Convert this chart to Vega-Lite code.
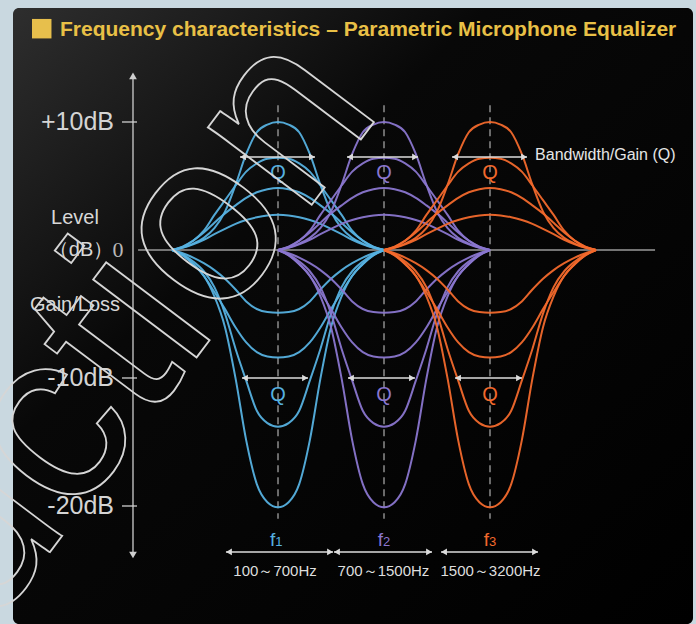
{
"$schema": "https://vega.github.io/schema/vega-lite/v6.json",
"width": 680, "height": 616,
"autosize": {"type": "none"},
"padding": {"left": 13, "top": 8, "right": 3, "bottom": 0},
"background": "#c9d8e0",
"config": {"font": "Liberation Sans", "view": {"stroke": null, "cornerRadius": 6, "fill": {"gradient": "linear", "x1": 0, "y1": 0, "x2": 1, "y2": 1, "stops": [{"offset": 0, "color": "#2e2e2e"}, {"offset": 0.35, "color": "#080808"}, {"offset": 1, "color": "#000000"}]}}},
"datasets": {
"curves": [
{"b":1,"c":"P1","x":0,"y":0},{"b":1,"c":"P1","x":0.1,"y":0.2},{"b":1,"c":"P1","x":0.2,"y":0.5},{"b":1,"c":"P1","x":0.3,"y":0.95},{"b":1,"c":"P1","x":0.4,"y":1.7},{"b":1,"c":"P1","x":0.5,"y":3},{"b":1,"c":"P1","x":0.6,"y":5.1},{"b":1,"c":"P1","x":0.7,"y":7.5},{"b":1,"c":"P1","x":0.8,"y":9.2},{"b":1,"c":"P1","x":0.9,"y":9.8},{"b":1,"c":"P1","x":1,"y":10},{"b":1,"c":"P1","x":1.1,"y":9.8},{"b":1,"c":"P1","x":1.2,"y":9.2},{"b":1,"c":"P1","x":1.3,"y":7.5},{"b":1,"c":"P1","x":1.4,"y":5.1},{"b":1,"c":"P1","x":1.5,"y":3},{"b":1,"c":"P1","x":1.6,"y":1.7},{"b":1,"c":"P1","x":1.7,"y":0.95},{"b":1,"c":"P1","x":1.8,"y":0.5},{"b":1,"c":"P1","x":1.9,"y":0.2},{"b":1,"c":"P1","x":2,"y":0},
{"b":1,"c":"P2","x":0,"y":0},{"b":1,"c":"P2","x":0.1,"y":0.25},{"b":1,"c":"P2","x":0.2,"y":0.72},{"b":1,"c":"P2","x":0.3,"y":1.51},{"b":1,"c":"P2","x":0.4,"y":2.74},{"b":1,"c":"P2","x":0.5,"y":3.89},{"b":1,"c":"P2","x":0.6,"y":5.04},{"b":1,"c":"P2","x":0.7,"y":6.12},{"b":1,"c":"P2","x":0.8,"y":6.77},{"b":1,"c":"P2","x":0.9,"y":7.13},{"b":1,"c":"P2","x":1,"y":7.2},{"b":1,"c":"P2","x":1.1,"y":7.13},{"b":1,"c":"P2","x":1.2,"y":6.77},{"b":1,"c":"P2","x":1.3,"y":6.12},{"b":1,"c":"P2","x":1.4,"y":5.04},{"b":1,"c":"P2","x":1.5,"y":3.89},{"b":1,"c":"P2","x":1.6,"y":2.74},{"b":1,"c":"P2","x":1.7,"y":1.51},{"b":1,"c":"P2","x":1.8,"y":0.72},{"b":1,"c":"P2","x":1.9,"y":0.25},{"b":1,"c":"P2","x":2,"y":0},
{"b":1,"c":"P3","x":0,"y":0},{"b":1,"c":"P3","x":0.1,"y":0.27},{"b":1,"c":"P3","x":0.2,"y":0.73},{"b":1,"c":"P3","x":0.3,"y":1.36},{"b":1,"c":"P3","x":0.4,"y":2.13},{"b":1,"c":"P3","x":0.5,"y":2.86},{"b":1,"c":"P3","x":0.6,"y":3.49},{"b":1,"c":"P3","x":0.7,"y":4.07},{"b":1,"c":"P3","x":0.8,"y":4.51},{"b":1,"c":"P3","x":0.9,"y":4.75},{"b":1,"c":"P3","x":1,"y":4.85},{"b":1,"c":"P3","x":1.1,"y":4.75},{"b":1,"c":"P3","x":1.2,"y":4.51},{"b":1,"c":"P3","x":1.3,"y":4.07},{"b":1,"c":"P3","x":1.4,"y":3.49},{"b":1,"c":"P3","x":1.5,"y":2.86},{"b":1,"c":"P3","x":1.6,"y":2.13},{"b":1,"c":"P3","x":1.7,"y":1.36},{"b":1,"c":"P3","x":1.8,"y":0.73},{"b":1,"c":"P3","x":1.9,"y":0.27},{"b":1,"c":"P3","x":2,"y":0},
{"b":1,"c":"P4","x":0,"y":0},{"b":1,"c":"P4","x":0.1,"y":0.17},{"b":1,"c":"P4","x":0.2,"y":0.44},{"b":1,"c":"P4","x":0.3,"y":0.8},{"b":1,"c":"P4","x":0.4,"y":1.24},{"b":1,"c":"P4","x":0.5,"y":1.65},{"b":1,"c":"P4","x":0.6,"y":2.04},{"b":1,"c":"P4","x":0.7,"y":2.34},{"b":1,"c":"P4","x":0.8,"y":2.56},{"b":1,"c":"P4","x":0.9,"y":2.7},{"b":1,"c":"P4","x":1,"y":2.75},{"b":1,"c":"P4","x":1.1,"y":2.7},{"b":1,"c":"P4","x":1.2,"y":2.56},{"b":1,"c":"P4","x":1.3,"y":2.34},{"b":1,"c":"P4","x":1.4,"y":2.04},{"b":1,"c":"P4","x":1.5,"y":1.65},{"b":1,"c":"P4","x":1.6,"y":1.24},{"b":1,"c":"P4","x":1.7,"y":0.8},{"b":1,"c":"P4","x":1.8,"y":0.44},{"b":1,"c":"P4","x":1.9,"y":0.17},{"b":1,"c":"P4","x":2,"y":0},
{"b":1,"c":"N1","x":0,"y":0},{"b":1,"c":"N1","x":0.1,"y":-0.25},{"b":1,"c":"N1","x":0.2,"y":-0.59},{"b":1,"c":"N1","x":0.3,"y":-1.03},{"b":1,"c":"N1","x":0.4,"y":-1.57},{"b":1,"c":"N1","x":0.5,"y":-2.25},{"b":1,"c":"N1","x":0.6,"y":-3.09},{"b":1,"c":"N1","x":0.7,"y":-4.02},{"b":1,"c":"N1","x":0.8,"y":-4.61},{"b":1,"c":"N1","x":0.9,"y":-4.85},{"b":1,"c":"N1","x":1,"y":-4.9},{"b":1,"c":"N1","x":1.1,"y":-4.85},{"b":1,"c":"N1","x":1.2,"y":-4.61},{"b":1,"c":"N1","x":1.3,"y":-4.02},{"b":1,"c":"N1","x":1.4,"y":-3.09},{"b":1,"c":"N1","x":1.5,"y":-2.25},{"b":1,"c":"N1","x":1.6,"y":-1.57},{"b":1,"c":"N1","x":1.7,"y":-1.03},{"b":1,"c":"N1","x":1.8,"y":-0.59},{"b":1,"c":"N1","x":1.9,"y":-0.25},{"b":1,"c":"N1","x":2,"y":0},
{"b":1,"c":"N2","x":0,"y":0},{"b":1,"c":"N2","x":0.1,"y":-0.42},{"b":1,"c":"N2","x":0.2,"y":-1.09},{"b":1,"c":"N2","x":0.3,"y":-2.02},{"b":1,"c":"N2","x":0.4,"y":-3.28},{"b":1,"c":"N2","x":0.5,"y":-4.62},{"b":1,"c":"N2","x":0.6,"y":-6.05},{"b":1,"c":"N2","x":0.7,"y":-7.22},{"b":1,"c":"N2","x":0.8,"y":-7.98},{"b":1,"c":"N2","x":0.9,"y":-8.32},{"b":1,"c":"N2","x":1,"y":-8.4},{"b":1,"c":"N2","x":1.1,"y":-8.32},{"b":1,"c":"N2","x":1.2,"y":-7.98},{"b":1,"c":"N2","x":1.3,"y":-7.22},{"b":1,"c":"N2","x":1.4,"y":-6.05},{"b":1,"c":"N2","x":1.5,"y":-4.62},{"b":1,"c":"N2","x":1.6,"y":-3.28},{"b":1,"c":"N2","x":1.7,"y":-2.02},{"b":1,"c":"N2","x":1.8,"y":-1.09},{"b":1,"c":"N2","x":1.9,"y":-0.42},{"b":1,"c":"N2","x":2,"y":0},
{"b":1,"c":"N3","x":0,"y":0},{"b":1,"c":"N3","x":0.1,"y":-0.35},{"b":1,"c":"N3","x":0.2,"y":-0.9},{"b":1,"c":"N3","x":0.3,"y":-1.66},{"b":1,"c":"N3","x":0.4,"y":-2.9},{"b":1,"c":"N3","x":0.5,"y":-4.97},{"b":1,"c":"N3","x":0.6,"y":-7.73},{"b":1,"c":"N3","x":0.7,"y":-10.21},{"b":1,"c":"N3","x":0.8,"y":-12.56},{"b":1,"c":"N3","x":0.9,"y":-13.52},{"b":1,"c":"N3","x":1,"y":-13.8},{"b":1,"c":"N3","x":1.1,"y":-13.52},{"b":1,"c":"N3","x":1.2,"y":-12.56},{"b":1,"c":"N3","x":1.3,"y":-10.21},{"b":1,"c":"N3","x":1.4,"y":-7.73},{"b":1,"c":"N3","x":1.5,"y":-4.97},{"b":1,"c":"N3","x":1.6,"y":-2.9},{"b":1,"c":"N3","x":1.7,"y":-1.66},{"b":1,"c":"N3","x":1.8,"y":-0.9},{"b":1,"c":"N3","x":1.9,"y":-0.35},{"b":1,"c":"N3","x":2,"y":0},
{"b":1,"c":"N4","x":0,"y":0},{"b":1,"c":"N4","x":0.1,"y":-0.4},{"b":1,"c":"N4","x":0.2,"y":-1.11},{"b":1,"c":"N4","x":0.3,"y":-2.01},{"b":1,"c":"N4","x":0.4,"y":-3.62},{"b":1,"c":"N4","x":0.5,"y":-6.03},{"b":1,"c":"N4","x":0.6,"y":-10.05},{"b":1,"c":"N4","x":0.7,"y":-14.87},{"b":1,"c":"N4","x":0.8,"y":-18.29},{"b":1,"c":"N4","x":0.9,"y":-19.7},{"b":1,"c":"N4","x":1,"y":-20.1},{"b":1,"c":"N4","x":1.1,"y":-19.7},{"b":1,"c":"N4","x":1.2,"y":-18.29},{"b":1,"c":"N4","x":1.3,"y":-14.87},{"b":1,"c":"N4","x":1.4,"y":-10.05},{"b":1,"c":"N4","x":1.5,"y":-6.03},{"b":1,"c":"N4","x":1.6,"y":-3.62},{"b":1,"c":"N4","x":1.7,"y":-2.01},{"b":1,"c":"N4","x":1.8,"y":-1.11},{"b":1,"c":"N4","x":1.9,"y":-0.4},{"b":1,"c":"N4","x":2,"y":0},
{"b":2,"c":"P1","x":1,"y":0},{"b":2,"c":"P1","x":1.1,"y":0.2},{"b":2,"c":"P1","x":1.2,"y":0.5},{"b":2,"c":"P1","x":1.3,"y":0.95},{"b":2,"c":"P1","x":1.4,"y":1.7},{"b":2,"c":"P1","x":1.5,"y":3},{"b":2,"c":"P1","x":1.6,"y":5.1},{"b":2,"c":"P1","x":1.7,"y":7.5},{"b":2,"c":"P1","x":1.8,"y":9.2},{"b":2,"c":"P1","x":1.9,"y":9.8},{"b":2,"c":"P1","x":2,"y":10},{"b":2,"c":"P1","x":2.1,"y":9.8},{"b":2,"c":"P1","x":2.2,"y":9.2},{"b":2,"c":"P1","x":2.3,"y":7.5},{"b":2,"c":"P1","x":2.4,"y":5.1},{"b":2,"c":"P1","x":2.5,"y":3},{"b":2,"c":"P1","x":2.6,"y":1.7},{"b":2,"c":"P1","x":2.7,"y":0.95},{"b":2,"c":"P1","x":2.8,"y":0.5},{"b":2,"c":"P1","x":2.9,"y":0.2},{"b":2,"c":"P1","x":3,"y":0},
{"b":2,"c":"P2","x":1,"y":0},{"b":2,"c":"P2","x":1.1,"y":0.25},{"b":2,"c":"P2","x":1.2,"y":0.72},{"b":2,"c":"P2","x":1.3,"y":1.51},{"b":2,"c":"P2","x":1.4,"y":2.74},{"b":2,"c":"P2","x":1.5,"y":3.89},{"b":2,"c":"P2","x":1.6,"y":5.04},{"b":2,"c":"P2","x":1.7,"y":6.12},{"b":2,"c":"P2","x":1.8,"y":6.77},{"b":2,"c":"P2","x":1.9,"y":7.13},{"b":2,"c":"P2","x":2,"y":7.2},{"b":2,"c":"P2","x":2.1,"y":7.13},{"b":2,"c":"P2","x":2.2,"y":6.77},{"b":2,"c":"P2","x":2.3,"y":6.12},{"b":2,"c":"P2","x":2.4,"y":5.04},{"b":2,"c":"P2","x":2.5,"y":3.89},{"b":2,"c":"P2","x":2.6,"y":2.74},{"b":2,"c":"P2","x":2.7,"y":1.51},{"b":2,"c":"P2","x":2.8,"y":0.72},{"b":2,"c":"P2","x":2.9,"y":0.25},{"b":2,"c":"P2","x":3,"y":0},
{"b":2,"c":"P3","x":1,"y":0},{"b":2,"c":"P3","x":1.1,"y":0.27},{"b":2,"c":"P3","x":1.2,"y":0.73},{"b":2,"c":"P3","x":1.3,"y":1.36},{"b":2,"c":"P3","x":1.4,"y":2.13},{"b":2,"c":"P3","x":1.5,"y":2.86},{"b":2,"c":"P3","x":1.6,"y":3.49},{"b":2,"c":"P3","x":1.7,"y":4.07},{"b":2,"c":"P3","x":1.8,"y":4.51},{"b":2,"c":"P3","x":1.9,"y":4.75},{"b":2,"c":"P3","x":2,"y":4.85},{"b":2,"c":"P3","x":2.1,"y":4.75},{"b":2,"c":"P3","x":2.2,"y":4.51},{"b":2,"c":"P3","x":2.3,"y":4.07},{"b":2,"c":"P3","x":2.4,"y":3.49},{"b":2,"c":"P3","x":2.5,"y":2.86},{"b":2,"c":"P3","x":2.6,"y":2.13},{"b":2,"c":"P3","x":2.7,"y":1.36},{"b":2,"c":"P3","x":2.8,"y":0.73},{"b":2,"c":"P3","x":2.9,"y":0.27},{"b":2,"c":"P3","x":3,"y":0},
{"b":2,"c":"P4","x":1,"y":0},{"b":2,"c":"P4","x":1.1,"y":0.17},{"b":2,"c":"P4","x":1.2,"y":0.44},{"b":2,"c":"P4","x":1.3,"y":0.8},{"b":2,"c":"P4","x":1.4,"y":1.24},{"b":2,"c":"P4","x":1.5,"y":1.65},{"b":2,"c":"P4","x":1.6,"y":2.04},{"b":2,"c":"P4","x":1.7,"y":2.34},{"b":2,"c":"P4","x":1.8,"y":2.56},{"b":2,"c":"P4","x":1.9,"y":2.7},{"b":2,"c":"P4","x":2,"y":2.75},{"b":2,"c":"P4","x":2.1,"y":2.7},{"b":2,"c":"P4","x":2.2,"y":2.56},{"b":2,"c":"P4","x":2.3,"y":2.34},{"b":2,"c":"P4","x":2.4,"y":2.04},{"b":2,"c":"P4","x":2.5,"y":1.65},{"b":2,"c":"P4","x":2.6,"y":1.24},{"b":2,"c":"P4","x":2.7,"y":0.8},{"b":2,"c":"P4","x":2.8,"y":0.44},{"b":2,"c":"P4","x":2.9,"y":0.17},{"b":2,"c":"P4","x":3,"y":0},
{"b":2,"c":"N1","x":1,"y":0},{"b":2,"c":"N1","x":1.1,"y":-0.25},{"b":2,"c":"N1","x":1.2,"y":-0.59},{"b":2,"c":"N1","x":1.3,"y":-1.03},{"b":2,"c":"N1","x":1.4,"y":-1.57},{"b":2,"c":"N1","x":1.5,"y":-2.25},{"b":2,"c":"N1","x":1.6,"y":-3.09},{"b":2,"c":"N1","x":1.7,"y":-4.02},{"b":2,"c":"N1","x":1.8,"y":-4.61},{"b":2,"c":"N1","x":1.9,"y":-4.85},{"b":2,"c":"N1","x":2,"y":-4.9},{"b":2,"c":"N1","x":2.1,"y":-4.85},{"b":2,"c":"N1","x":2.2,"y":-4.61},{"b":2,"c":"N1","x":2.3,"y":-4.02},{"b":2,"c":"N1","x":2.4,"y":-3.09},{"b":2,"c":"N1","x":2.5,"y":-2.25},{"b":2,"c":"N1","x":2.6,"y":-1.57},{"b":2,"c":"N1","x":2.7,"y":-1.03},{"b":2,"c":"N1","x":2.8,"y":-0.59},{"b":2,"c":"N1","x":2.9,"y":-0.25},{"b":2,"c":"N1","x":3,"y":0},
{"b":2,"c":"N2","x":1,"y":0},{"b":2,"c":"N2","x":1.1,"y":-0.42},{"b":2,"c":"N2","x":1.2,"y":-1.09},{"b":2,"c":"N2","x":1.3,"y":-2.02},{"b":2,"c":"N2","x":1.4,"y":-3.28},{"b":2,"c":"N2","x":1.5,"y":-4.62},{"b":2,"c":"N2","x":1.6,"y":-6.05},{"b":2,"c":"N2","x":1.7,"y":-7.22},{"b":2,"c":"N2","x":1.8,"y":-7.98},{"b":2,"c":"N2","x":1.9,"y":-8.32},{"b":2,"c":"N2","x":2,"y":-8.4},{"b":2,"c":"N2","x":2.1,"y":-8.32},{"b":2,"c":"N2","x":2.2,"y":-7.98},{"b":2,"c":"N2","x":2.3,"y":-7.22},{"b":2,"c":"N2","x":2.4,"y":-6.05},{"b":2,"c":"N2","x":2.5,"y":-4.62},{"b":2,"c":"N2","x":2.6,"y":-3.28},{"b":2,"c":"N2","x":2.7,"y":-2.02},{"b":2,"c":"N2","x":2.8,"y":-1.09},{"b":2,"c":"N2","x":2.9,"y":-0.42},{"b":2,"c":"N2","x":3,"y":0},
{"b":2,"c":"N3","x":1,"y":0},{"b":2,"c":"N3","x":1.1,"y":-0.35},{"b":2,"c":"N3","x":1.2,"y":-0.9},{"b":2,"c":"N3","x":1.3,"y":-1.66},{"b":2,"c":"N3","x":1.4,"y":-2.9},{"b":2,"c":"N3","x":1.5,"y":-4.97},{"b":2,"c":"N3","x":1.6,"y":-7.73},{"b":2,"c":"N3","x":1.7,"y":-10.21},{"b":2,"c":"N3","x":1.8,"y":-12.56},{"b":2,"c":"N3","x":1.9,"y":-13.52},{"b":2,"c":"N3","x":2,"y":-13.8},{"b":2,"c":"N3","x":2.1,"y":-13.52},{"b":2,"c":"N3","x":2.2,"y":-12.56},{"b":2,"c":"N3","x":2.3,"y":-10.21},{"b":2,"c":"N3","x":2.4,"y":-7.73},{"b":2,"c":"N3","x":2.5,"y":-4.97},{"b":2,"c":"N3","x":2.6,"y":-2.9},{"b":2,"c":"N3","x":2.7,"y":-1.66},{"b":2,"c":"N3","x":2.8,"y":-0.9},{"b":2,"c":"N3","x":2.9,"y":-0.35},{"b":2,"c":"N3","x":3,"y":0},
{"b":2,"c":"N4","x":1,"y":0},{"b":2,"c":"N4","x":1.1,"y":-0.4},{"b":2,"c":"N4","x":1.2,"y":-1.11},{"b":2,"c":"N4","x":1.3,"y":-2.01},{"b":2,"c":"N4","x":1.4,"y":-3.62},{"b":2,"c":"N4","x":1.5,"y":-6.03},{"b":2,"c":"N4","x":1.6,"y":-10.05},{"b":2,"c":"N4","x":1.7,"y":-14.87},{"b":2,"c":"N4","x":1.8,"y":-18.29},{"b":2,"c":"N4","x":1.9,"y":-19.7},{"b":2,"c":"N4","x":2,"y":-20.1},{"b":2,"c":"N4","x":2.1,"y":-19.7},{"b":2,"c":"N4","x":2.2,"y":-18.29},{"b":2,"c":"N4","x":2.3,"y":-14.87},{"b":2,"c":"N4","x":2.4,"y":-10.05},{"b":2,"c":"N4","x":2.5,"y":-6.03},{"b":2,"c":"N4","x":2.6,"y":-3.62},{"b":2,"c":"N4","x":2.7,"y":-2.01},{"b":2,"c":"N4","x":2.8,"y":-1.11},{"b":2,"c":"N4","x":2.9,"y":-0.4},{"b":2,"c":"N4","x":3,"y":0},
{"b":3,"c":"P1","x":2,"y":0},{"b":3,"c":"P1","x":2.1,"y":0.2},{"b":3,"c":"P1","x":2.2,"y":0.5},{"b":3,"c":"P1","x":2.3,"y":0.95},{"b":3,"c":"P1","x":2.4,"y":1.7},{"b":3,"c":"P1","x":2.5,"y":3},{"b":3,"c":"P1","x":2.6,"y":5.1},{"b":3,"c":"P1","x":2.7,"y":7.5},{"b":3,"c":"P1","x":2.8,"y":9.2},{"b":3,"c":"P1","x":2.9,"y":9.8},{"b":3,"c":"P1","x":3,"y":10},{"b":3,"c":"P1","x":3.1,"y":9.8},{"b":3,"c":"P1","x":3.2,"y":9.2},{"b":3,"c":"P1","x":3.3,"y":7.5},{"b":3,"c":"P1","x":3.4,"y":5.1},{"b":3,"c":"P1","x":3.5,"y":3},{"b":3,"c":"P1","x":3.6,"y":1.7},{"b":3,"c":"P1","x":3.7,"y":0.95},{"b":3,"c":"P1","x":3.8,"y":0.5},{"b":3,"c":"P1","x":3.9,"y":0.2},{"b":3,"c":"P1","x":4,"y":0},
{"b":3,"c":"P2","x":2,"y":0},{"b":3,"c":"P2","x":2.1,"y":0.25},{"b":3,"c":"P2","x":2.2,"y":0.72},{"b":3,"c":"P2","x":2.3,"y":1.51},{"b":3,"c":"P2","x":2.4,"y":2.74},{"b":3,"c":"P2","x":2.5,"y":3.89},{"b":3,"c":"P2","x":2.6,"y":5.04},{"b":3,"c":"P2","x":2.7,"y":6.12},{"b":3,"c":"P2","x":2.8,"y":6.77},{"b":3,"c":"P2","x":2.9,"y":7.13},{"b":3,"c":"P2","x":3,"y":7.2},{"b":3,"c":"P2","x":3.1,"y":7.13},{"b":3,"c":"P2","x":3.2,"y":6.77},{"b":3,"c":"P2","x":3.3,"y":6.12},{"b":3,"c":"P2","x":3.4,"y":5.04},{"b":3,"c":"P2","x":3.5,"y":3.89},{"b":3,"c":"P2","x":3.6,"y":2.74},{"b":3,"c":"P2","x":3.7,"y":1.51},{"b":3,"c":"P2","x":3.8,"y":0.72},{"b":3,"c":"P2","x":3.9,"y":0.25},{"b":3,"c":"P2","x":4,"y":0},
{"b":3,"c":"P3","x":2,"y":0},{"b":3,"c":"P3","x":2.1,"y":0.27},{"b":3,"c":"P3","x":2.2,"y":0.73},{"b":3,"c":"P3","x":2.3,"y":1.36},{"b":3,"c":"P3","x":2.4,"y":2.13},{"b":3,"c":"P3","x":2.5,"y":2.86},{"b":3,"c":"P3","x":2.6,"y":3.49},{"b":3,"c":"P3","x":2.7,"y":4.07},{"b":3,"c":"P3","x":2.8,"y":4.51},{"b":3,"c":"P3","x":2.9,"y":4.75},{"b":3,"c":"P3","x":3,"y":4.85},{"b":3,"c":"P3","x":3.1,"y":4.75},{"b":3,"c":"P3","x":3.2,"y":4.51},{"b":3,"c":"P3","x":3.3,"y":4.07},{"b":3,"c":"P3","x":3.4,"y":3.49},{"b":3,"c":"P3","x":3.5,"y":2.86},{"b":3,"c":"P3","x":3.6,"y":2.13},{"b":3,"c":"P3","x":3.7,"y":1.36},{"b":3,"c":"P3","x":3.8,"y":0.73},{"b":3,"c":"P3","x":3.9,"y":0.27},{"b":3,"c":"P3","x":4,"y":0},
{"b":3,"c":"P4","x":2,"y":0},{"b":3,"c":"P4","x":2.1,"y":0.17},{"b":3,"c":"P4","x":2.2,"y":0.44},{"b":3,"c":"P4","x":2.3,"y":0.8},{"b":3,"c":"P4","x":2.4,"y":1.24},{"b":3,"c":"P4","x":2.5,"y":1.65},{"b":3,"c":"P4","x":2.6,"y":2.04},{"b":3,"c":"P4","x":2.7,"y":2.34},{"b":3,"c":"P4","x":2.8,"y":2.56},{"b":3,"c":"P4","x":2.9,"y":2.7},{"b":3,"c":"P4","x":3,"y":2.75},{"b":3,"c":"P4","x":3.1,"y":2.7},{"b":3,"c":"P4","x":3.2,"y":2.56},{"b":3,"c":"P4","x":3.3,"y":2.34},{"b":3,"c":"P4","x":3.4,"y":2.04},{"b":3,"c":"P4","x":3.5,"y":1.65},{"b":3,"c":"P4","x":3.6,"y":1.24},{"b":3,"c":"P4","x":3.7,"y":0.8},{"b":3,"c":"P4","x":3.8,"y":0.44},{"b":3,"c":"P4","x":3.9,"y":0.17},{"b":3,"c":"P4","x":4,"y":0},
{"b":3,"c":"N1","x":2,"y":0},{"b":3,"c":"N1","x":2.1,"y":-0.25},{"b":3,"c":"N1","x":2.2,"y":-0.59},{"b":3,"c":"N1","x":2.3,"y":-1.03},{"b":3,"c":"N1","x":2.4,"y":-1.57},{"b":3,"c":"N1","x":2.5,"y":-2.25},{"b":3,"c":"N1","x":2.6,"y":-3.09},{"b":3,"c":"N1","x":2.7,"y":-4.02},{"b":3,"c":"N1","x":2.8,"y":-4.61},{"b":3,"c":"N1","x":2.9,"y":-4.85},{"b":3,"c":"N1","x":3,"y":-4.9},{"b":3,"c":"N1","x":3.1,"y":-4.85},{"b":3,"c":"N1","x":3.2,"y":-4.61},{"b":3,"c":"N1","x":3.3,"y":-4.02},{"b":3,"c":"N1","x":3.4,"y":-3.09},{"b":3,"c":"N1","x":3.5,"y":-2.25},{"b":3,"c":"N1","x":3.6,"y":-1.57},{"b":3,"c":"N1","x":3.7,"y":-1.03},{"b":3,"c":"N1","x":3.8,"y":-0.59},{"b":3,"c":"N1","x":3.9,"y":-0.25},{"b":3,"c":"N1","x":4,"y":0},
{"b":3,"c":"N2","x":2,"y":0},{"b":3,"c":"N2","x":2.1,"y":-0.42},{"b":3,"c":"N2","x":2.2,"y":-1.09},{"b":3,"c":"N2","x":2.3,"y":-2.02},{"b":3,"c":"N2","x":2.4,"y":-3.28},{"b":3,"c":"N2","x":2.5,"y":-4.62},{"b":3,"c":"N2","x":2.6,"y":-6.05},{"b":3,"c":"N2","x":2.7,"y":-7.22},{"b":3,"c":"N2","x":2.8,"y":-7.98},{"b":3,"c":"N2","x":2.9,"y":-8.32},{"b":3,"c":"N2","x":3,"y":-8.4},{"b":3,"c":"N2","x":3.1,"y":-8.32},{"b":3,"c":"N2","x":3.2,"y":-7.98},{"b":3,"c":"N2","x":3.3,"y":-7.22},{"b":3,"c":"N2","x":3.4,"y":-6.05},{"b":3,"c":"N2","x":3.5,"y":-4.62},{"b":3,"c":"N2","x":3.6,"y":-3.28},{"b":3,"c":"N2","x":3.7,"y":-2.02},{"b":3,"c":"N2","x":3.8,"y":-1.09},{"b":3,"c":"N2","x":3.9,"y":-0.42},{"b":3,"c":"N2","x":4,"y":0},
{"b":3,"c":"N3","x":2,"y":0},{"b":3,"c":"N3","x":2.1,"y":-0.35},{"b":3,"c":"N3","x":2.2,"y":-0.9},{"b":3,"c":"N3","x":2.3,"y":-1.66},{"b":3,"c":"N3","x":2.4,"y":-2.9},{"b":3,"c":"N3","x":2.5,"y":-4.97},{"b":3,"c":"N3","x":2.6,"y":-7.73},{"b":3,"c":"N3","x":2.7,"y":-10.21},{"b":3,"c":"N3","x":2.8,"y":-12.56},{"b":3,"c":"N3","x":2.9,"y":-13.52},{"b":3,"c":"N3","x":3,"y":-13.8},{"b":3,"c":"N3","x":3.1,"y":-13.52},{"b":3,"c":"N3","x":3.2,"y":-12.56},{"b":3,"c":"N3","x":3.3,"y":-10.21},{"b":3,"c":"N3","x":3.4,"y":-7.73},{"b":3,"c":"N3","x":3.5,"y":-4.97},{"b":3,"c":"N3","x":3.6,"y":-2.9},{"b":3,"c":"N3","x":3.7,"y":-1.66},{"b":3,"c":"N3","x":3.8,"y":-0.9},{"b":3,"c":"N3","x":3.9,"y":-0.35},{"b":3,"c":"N3","x":4,"y":0},
{"b":3,"c":"N4","x":2,"y":0},{"b":3,"c":"N4","x":2.1,"y":-0.4},{"b":3,"c":"N4","x":2.2,"y":-1.11},{"b":3,"c":"N4","x":2.3,"y":-2.01},{"b":3,"c":"N4","x":2.4,"y":-3.62},{"b":3,"c":"N4","x":2.5,"y":-6.03},{"b":3,"c":"N4","x":2.6,"y":-10.05},{"b":3,"c":"N4","x":2.7,"y":-14.87},{"b":3,"c":"N4","x":2.8,"y":-18.29},{"b":3,"c":"N4","x":2.9,"y":-19.7},{"b":3,"c":"N4","x":3,"y":-20.1},{"b":3,"c":"N4","x":3.1,"y":-19.7},{"b":3,"c":"N4","x":3.2,"y":-18.29},{"b":3,"c":"N4","x":3.3,"y":-14.87},{"b":3,"c":"N4","x":3.4,"y":-10.05},{"b":3,"c":"N4","x":3.5,"y":-6.03},{"b":3,"c":"N4","x":3.6,"y":-3.62},{"b":3,"c":"N4","x":3.7,"y":-2.01},{"b":3,"c":"N4","x":3.8,"y":-1.11},{"b":3,"c":"N4","x":3.9,"y":-0.4},{"b":3,"c":"N4","x":4,"y":0}
],
"arrows": [
{"g":"Q+","x1":0.642,"x2":1.349,"y":7.27},{"g":"Q+","x1":1.651,"x2":2.321,"y":7.27},{"g":"Q+","x1":2.642,"x2":3.349,"y":7.27},
{"g":"Q-","x1":0.66,"x2":1.283,"y":-10},{"g":"Q-","x1":1.66,"x2":2.292,"y":-10},{"g":"Q-","x1":2.67,"x2":3.302,"y":-10},
{"g":"range","x1":0.509,"x2":1.519,"y":-23.59},{"g":"range","x1":1.528,"x2":2.453,"y":-23.59},{"g":"range","x1":2.538,"x2":3.453,"y":-23.59}
],
"ticks": [{"v":10,"t":"+10dB"},{"v":-10,"t":"-10dB"},{"v":-20,"t":"-20dB"}]
},
"layer": [
{"data": {"values": [{"b":1,"x":1},{"b":2,"x":2},{"b":3,"x":3}]},
 "mark": {"type": "rule", "color": "#8c8c8c", "strokeWidth": 1.5, "strokeDash": [7, 5]},
 "encoding": {"x": {"field": "x", "type": "quantitative", "scale": {"domain": [-1.5, 4.915], "nice": false, "zero": false}, "axis": null},
  "y": {"datum": 11.3, "type": "quantitative", "scale": {"domain": [-29.219, 18.906], "nice": false, "zero": false}, "axis": null},
  "y2": {"datum": -21}}},
{"data": {"values": [{}]},
 "mark": {"type": "rule", "color": "#9a9a9a", "strokeWidth": 1.5},
 "encoding": {"x": {"datum": -0.32, "type": "quantitative", "scale": {"domain": [-1.5, 4.915], "nice": false, "zero": false}, "axis": null},
  "x2": {"datum": 4.557},
  "y": {"datum": 0, "type": "quantitative", "scale": {"domain": [-29.219, 18.906], "nice": false, "zero": false}, "axis": null}}},
{"data": {"values": [{}]},
 "mark": {"type": "rule", "color": "#cfcfcf", "strokeWidth": 1.3},
 "encoding": {"x": {"datum": -0.368, "type": "quantitative", "scale": {"domain": [-1.5, 4.915], "nice": false, "zero": false}, "axis": null},
  "y": {"datum": 13.6, "type": "quantitative", "scale": {"domain": [-29.219, 18.906], "nice": false, "zero": false}, "axis": null},
  "y2": {"datum": -23.83}}},
{"data": {"name": "ticks"},
 "mark": {"type": "rule", "color": "#cfcfcf", "strokeWidth": 1.3},
 "encoding": {"x": {"datum": -0.4717, "type": "quantitative", "scale": {"domain": [-1.5, 4.915], "nice": false, "zero": false}, "axis": null},
  "x2": {"datum": -0.3302},
  "y": {"field": "v", "type": "quantitative", "scale": {"domain": [-29.219, 18.906], "nice": false, "zero": false}, "axis": null}}},
{"data": {"name": "ticks"},
 "mark": {"type": "text", "fontSize": 25, "font": "Liberation Sans", "color": "#d4d4d4", "align": "right", "baseline": "middle"},
 "encoding": {"x": {"datum": -0.547, "type": "quantitative", "scale": {"domain": [-1.5, 4.915], "nice": false, "zero": false}, "axis": null},
  "y": {"field": "v", "type": "quantitative", "scale": {"domain": [-29.219, 18.906], "nice": false, "zero": false}, "axis": null},
  "text": {"field": "t"}}},
{"data": {"values": [{}]},
 "mark": {"type": "point", "shape": "triangle-up", "filled": true, "size": 60, "color": "#cfcfcf", "opacity": 1},
 "encoding": {"x": {"datum": -0.368, "type": "quantitative", "scale": {"domain": [-1.5, 4.915], "nice": false, "zero": false}, "axis": null},
  "y": {"datum": 13.6, "type": "quantitative", "scale": {"domain": [-29.219, 18.906], "nice": false, "zero": false}, "axis": null}}},
{"data": {"values": [{}]},
 "mark": {"type": "point", "shape": "triangle-down", "filled": true, "size": 60, "color": "#cfcfcf", "opacity": 1},
 "encoding": {"x": {"datum": -0.368, "type": "quantitative", "scale": {"domain": [-1.5, 4.915], "nice": false, "zero": false}, "axis": null},
  "y": {"datum": -23.83, "type": "quantitative", "scale": {"domain": [-29.219, 18.906], "nice": false, "zero": false}, "axis": null}}},
{"data": {"name": "curves"},
 "mark": {"type": "line", "strokeWidth": 2, "interpolate": "monotone", "opacity": 0.95},
 "encoding": {"x": {"field": "x", "type": "quantitative", "scale": {"domain": [-1.5, 4.915], "nice": false, "zero": false}, "axis": null},
  "y": {"field": "y", "type": "quantitative", "scale": {"domain": [-29.219, 18.906], "nice": false, "zero": false}, "axis": null},
  "color": {"field": "b", "type": "nominal", "scale": {"domain": [1, 2, 3], "range": ["#56b1e0", "#8a76cf", "#f2692c"]}, "legend": null},
  "detail": {"field": "c"}}},
{"data": {"name": "arrows"},
 "mark": {"type": "rule", "color": "#dcdcdc", "strokeWidth": 1.5},
 "encoding": {"x": {"field": "x1", "type": "quantitative", "scale": {"domain": [-1.5, 4.915], "nice": false, "zero": false}, "axis": null},
  "x2": {"field": "x2"},
  "y": {"field": "y", "type": "quantitative", "scale": {"domain": [-29.219, 18.906], "nice": false, "zero": false}, "axis": null}}},
{"data": {"name": "arrows"},
 "mark": {"type": "point", "shape": "triangle-left", "filled": true, "size": 45, "color": "#dcdcdc", "opacity": 1, "xOffset": 3},
 "encoding": {"x": {"field": "x1", "type": "quantitative", "scale": {"domain": [-1.5, 4.915], "nice": false, "zero": false}, "axis": null},
  "y": {"field": "y", "type": "quantitative", "scale": {"domain": [-29.219, 18.906], "nice": false, "zero": false}, "axis": null}}},
{"data": {"name": "arrows"},
 "mark": {"type": "point", "shape": "triangle-right", "filled": true, "size": 45, "color": "#dcdcdc", "opacity": 1, "xOffset": -3},
 "encoding": {"x": {"field": "x2", "type": "quantitative", "scale": {"domain": [-1.5, 4.915], "nice": false, "zero": false}, "axis": null},
  "y": {"field": "y", "type": "quantitative", "scale": {"domain": [-29.219, 18.906], "nice": false, "zero": false}, "axis": null}}},
{"data": {"values": [{"b":1,"x":1,"y":5.98},{"b":2,"x":2,"y":5.98},{"b":3,"x":3,"y":5.98},{"b":1,"x":1,"y":-11.3},{"b":2,"x":2,"y":-11.3},{"b":3,"x":3,"y":-11.3}]},
 "mark": {"type": "text", "text": "Q", "fontSize": 20, "font": "Liberation Sans", "align": "center", "baseline": "middle"},
 "encoding": {"x": {"field": "x", "type": "quantitative", "scale": {"domain": [-1.5, 4.915], "nice": false, "zero": false}, "axis": null},
  "y": {"field": "y", "type": "quantitative", "scale": {"domain": [-29.219, 18.906], "nice": false, "zero": false}, "axis": null},
  "color": {"field": "b", "type": "nominal", "scale": {"domain": [1, 2, 3], "range": ["#56b1e0", "#8a76cf", "#f2692c"]}, "legend": null}}},
{"data": {"values": [{"b":1,"x":0.975,"n":"1"},{"b":2,"x":1.99,"n":"2"},{"b":3,"x":2.99,"n":"3"}]},
 "mark": {"type": "text", "text": "f", "fontSize": 19, "font": "Liberation Sans", "align": "right", "baseline": "alphabetic"},
 "encoding": {"x": {"field": "x", "type": "quantitative", "scale": {"domain": [-1.5, 4.915], "nice": false, "zero": false}, "axis": null},
  "y": {"datum": -23.1, "type": "quantitative", "scale": {"domain": [-29.219, 18.906], "nice": false, "zero": false}, "axis": null},
  "color": {"field": "b", "type": "nominal", "scale": {"domain": [1, 2, 3], "range": ["#56b1e0", "#8a76cf", "#f2692c"]}, "legend": null}}},
{"data": {"values": [{"b":1,"x":0.975,"n":"1"},{"b":2,"x":1.99,"n":"2"},{"b":3,"x":2.99,"n":"3"}]},
 "mark": {"type": "text", "fontSize": 13, "font": "Liberation Sans", "align": "left", "baseline": "alphabetic"},
 "encoding": {"x": {"field": "x", "type": "quantitative", "scale": {"domain": [-1.5, 4.915], "nice": false, "zero": false}, "axis": null},
  "y": {"datum": -23.1, "type": "quantitative", "scale": {"domain": [-29.219, 18.906], "nice": false, "zero": false}, "axis": null},
  "text": {"field": "n"},
  "color": {"field": "b", "type": "nominal", "scale": {"domain": [1, 2, 3], "range": ["#56b1e0", "#8a76cf", "#f2692c"]}, "legend": null}}},
{"data": {"values": [{"x":0.972,"t":"100～700Hz"},{"x":1.995,"t":"700～1500Hz"},{"x":3.005,"t":"1500～3200Hz"}]},
 "mark": {"type": "text", "fontSize": 15, "font": "Liberation Sans", "color": "#dedede", "align": "center", "baseline": "middle"},
 "encoding": {"x": {"field": "x", "type": "quantitative", "scale": {"domain": [-1.5, 4.915], "nice": false, "zero": false}, "axis": null},
  "y": {"datum": -25.1, "type": "quantitative", "scale": {"domain": [-29.219, 18.906], "nice": false, "zero": false}, "axis": null},
  "text": {"field": "t"}}},
{"data": {"values": [{"x":-0.915,"y":2.5,"t":"Level"},{"x":-0.858,"y":0,"t":"（dB）"},{"x":-0.915,"y":-4.26,"t":"Gain/Loss"}]},
 "mark": {"type": "text", "fontSize": 20, "font": "Liberation Sans", "color": "#d8d8d8", "align": "center", "baseline": "middle"},
 "encoding": {"x": {"field": "x", "type": "quantitative", "scale": {"domain": [-1.5, 4.915], "nice": false, "zero": false}, "axis": null},
  "y": {"field": "y", "type": "quantitative", "scale": {"domain": [-29.219, 18.906], "nice": false, "zero": false}, "axis": null},
  "text": {"field": "t"}}},
{"data": {"values": [{"x":-0.509,"y":0,"t":"0"}]},
 "mark": {"type": "text", "fontSize": 22, "font": "Liberation Serif", "color": "#b8b8b8", "align": "center", "baseline": "middle"},
 "encoding": {"x": {"field": "x", "type": "quantitative", "scale": {"domain": [-1.5, 4.915], "nice": false, "zero": false}, "axis": null},
  "y": {"field": "y", "type": "quantitative", "scale": {"domain": [-29.219, 18.906], "nice": false, "zero": false}, "axis": null},
  "text": {"field": "t"}}},
{"data": {"values": [{"x":3.425,"y":7.4,"t":"Bandwidth/Gain (Q)"}]},
 "mark": {"type": "text", "fontSize": 16, "font": "Liberation Sans", "color": "#e6e6e6", "align": "left", "baseline": "middle"},
 "encoding": {"x": {"field": "x", "type": "quantitative", "scale": {"domain": [-1.5, 4.915], "nice": false, "zero": false}, "axis": null},
  "y": {"field": "y", "type": "quantitative", "scale": {"domain": [-29.219, 18.906], "nice": false, "zero": false}, "axis": null},
  "text": {"field": "t"}}},
{"data": {"values": [{"x":-1.229,"y":17.29}]},
 "mark": {"type": "point", "shape": "square", "filled": true, "size": 380, "color": "#e7bf4c", "opacity": 1},
 "encoding": {"x": {"field": "x", "type": "quantitative", "scale": {"domain": [-1.5, 4.915], "nice": false, "zero": false}, "axis": null},
  "y": {"field": "y", "type": "quantitative", "scale": {"domain": [-29.219, 18.906], "nice": false, "zero": false}, "axis": null}}},
{"data": {"values": [{"x":-1.0566,"y":16.72,"t":"Frequency characteristics – Parametric Microphone Equalizer"}]},
 "mark": {"type": "text", "fontSize": 21, "fontWeight": "bold", "font": "Liberation Sans", "color": "#e9c046", "align": "left", "baseline": "alphabetic"},
 "encoding": {"x": {"field": "x", "type": "quantitative", "scale": {"domain": [-1.5, 4.915], "nice": false, "zero": false}, "axis": null},
  "y": {"field": "y", "type": "quantitative", "scale": {"domain": [-29.219, 18.906], "nice": false, "zero": false}, "axis": null},
  "text": {"field": "t"}}},
{"data": {"values": [{"x":0.139,"y":-9.42,"t":"uction"}]},
 "mark": {"type": "text", "fontSize": 245, "font": "Liberation Sans", "angle": -53, "align": "center", "baseline": "alphabetic", "fillOpacity": 0, "stroke": "#d6d6d6", "strokeWidth": 1.8},
 "encoding": {"x": {"field": "x", "type": "quantitative", "scale": {"domain": [-1.5, 4.915], "nice": false, "zero": false}, "axis": null},
  "y": {"field": "y", "type": "quantitative", "scale": {"domain": [-29.219, 18.906], "nice": false, "zero": false}, "axis": null},
  "text": {"field": "t"}}}
]
}
